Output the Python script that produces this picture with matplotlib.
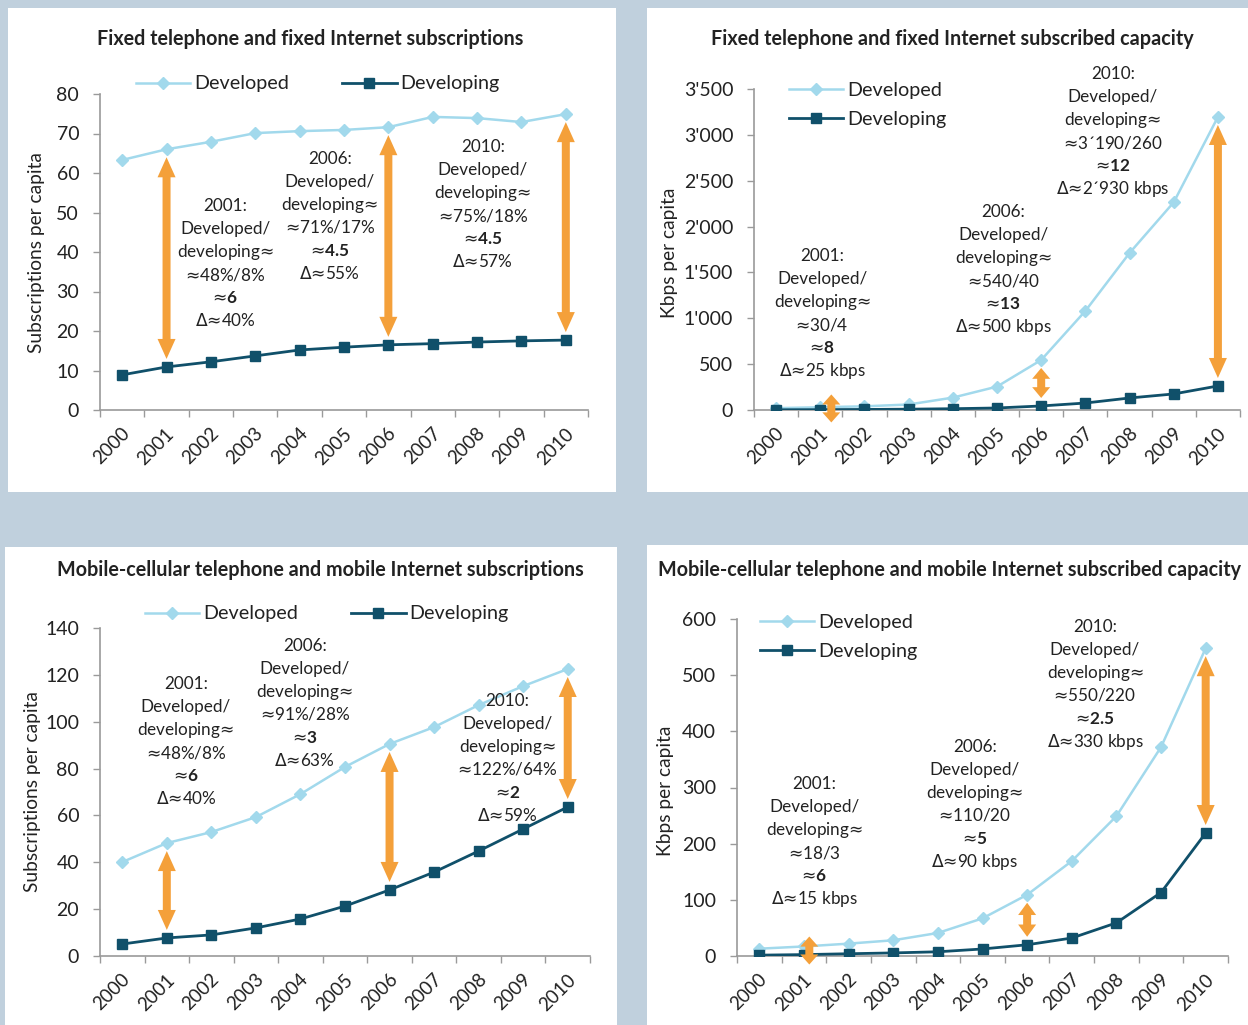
import numpy as np
import matplotlib
matplotlib.use('Agg')
import matplotlib.pyplot as plt
import matplotlib.transforms as mtransforms
from matplotlib.patches import Polygon, Rectangle
from matplotlib.lines import Line2D
from matplotlib.ticker import FuncFormatter, MultipleLocator

plt.rcParams['font.family'] = ['Lato', 'DejaVu Sans']
plt.rcParams['mathtext.fontset'] = 'custom'
plt.rcParams['mathtext.rm'] = 'Lato'
plt.rcParams['mathtext.bf'] = 'Lato:bold'
plt.rcParams['mathtext.sf'] = 'DejaVu Sans'

W, H = 1248, 1025

COR_FUNDO = '#c0d0dd'
COR_DEV = '#a2d9ec'
COR_DEVG = '#10506a'
LARANJA = '#f4a03a'
COR_EIXO = '#9a9a9a'
COR_TEXTO = '#222222'

ANOS = [str(a) for a in range(2000, 2011)]

# Painel 1: assinaturas fixas (por 100 hab.)
fixo_assin_dev = [63.3, 66.0, 67.9, 70.1, 70.6, 70.9, 71.6, 74.2, 73.9, 72.9, 74.9]
fixo_assin_devg = [8.9, 10.9, 12.2, 13.7, 15.2, 15.9, 16.5, 16.8, 17.2, 17.5, 17.7]

# Painel 2: capacidade fixa (kbps per capita)
fixo_cap_dev = [20, 30, 40, 60, 135, 255, 545, 1080, 1712, 2265, 3195]
fixo_cap_devg = [2, 4, 6, 9, 14, 22, 44, 76, 131, 175, 262]

# Painel 3: assinaturas móveis
movel_assin_dev = [40.1, 48.2, 52.9, 59.3, 69.1, 80.7, 90.5, 97.7, 107.1, 115.2, 122.5]
movel_assin_devg = [5.1, 7.7, 9.0, 12.0, 15.8, 21.3, 28.2, 35.8, 44.8, 54.2, 63.6]

# Painel 4: capacidade móvel
movel_cap_dev = [13, 17, 22, 28, 41, 67, 109, 169, 249, 372, 548]
movel_cap_devg = [1.5, 2.5, 4, 5.5, 7.5, 12.5, 20, 32, 59, 113, 219]

TITULOS = [
    'Fixed telephone and fixed Internet subscriptions',
    'Fixed telephone and fixed Internet subscribed capacity',
    'Mobile-cellular telephone and mobile Internet subscriptions',
    'Mobile-cellular telephone and mobile Internet subscribed capacity',
]

NOTAS_FIXO_ASSIN = [
    '2001:\nDeveloped/\ndeveloping≈\n≈48%/8%\n≈$\\mathbf{6}$\nΔ≈40%',
    '2006:\nDeveloped/\ndeveloping≈\n≈71%/17%\n≈$\\mathbf{4.5}$\nΔ≈55%',
    '2010:\nDeveloped/\ndeveloping≈\n≈75%/18%\n≈$\\mathbf{4.5}$\nΔ≈57%',
]
NOTAS_FIXO_CAP = [
    '2001:\nDeveloped/\ndeveloping≈\n≈30/4\n≈$\\mathbf{8}$\nΔ≈25 kbps',
    '2006:\nDeveloped/\ndeveloping≈\n≈540/40\n≈$\\mathbf{13}$\nΔ≈500 kbps',
    '2010:\nDeveloped/\ndeveloping≈\n≈3´190/260\n≈$\\mathbf{12}$\nΔ≈2´930 kbps',
]
NOTAS_MOVEL_ASSIN = [
    '2001:\nDeveloped/\ndeveloping≈\n≈48%/8%\n≈$\\mathbf{6}$\nΔ≈40%',
    '2006:\nDeveloped/\ndeveloping≈\n≈91%/28%\n≈$\\mathbf{3}$\nΔ≈63%',
    '2010:\nDeveloped/\ndeveloping≈\n≈122%/64%\n≈$\\mathbf{2}$\nΔ≈59%',
]
NOTAS_MOVEL_CAP = [
    '2001:\nDeveloped/\ndeveloping≈\n≈18/3\n≈$\\mathbf{6}$\nΔ≈15 kbps',
    '2006:\nDeveloped/\ndeveloping≈\n≈110/20\n≈$\\mathbf{5}$\nΔ≈90 kbps',
    '2010:\nDeveloped/\ndeveloping≈\n≈550/220\n≈$\\mathbf{2.5}$\nΔ≈330 kbps',
]

ANOS_SETA = [1, 6, 10]
PASSO_LINHA = 23  # px entre linhas das notas


def px_ax(x0, y0, x1, y1):
    return [x0 / W, 1 - y1 / H, (x1 - x0) / W, (y1 - y0) / H]


def fmt_milhar(v, pos):
    return f'{int(v):,}'.replace(',', "'")


def simbolos(linha):
    """≈ e Δ em DejaVu Sans (via mathtext sf), como no original."""
    return linha.replace('≈', '$\\mathsf{≈}$').replace('Δ', '$\\mathsf{Δ}$')


def seta(ax, x, y_sup, y_inf, folga=8, comp_min=28):
    """Seta laranja de duas pontas entre as duas séries (em pixels)."""
    cx, ps = ax.transData.transform((x, y_sup))
    _, pi = ax.transData.transform((x, y_inf))
    topo, base = ps - folga, pi + folga
    if topo - base < comp_min:
        meio = (ps + pi) / 2
        topo, base = meio + comp_min / 2, meio - comp_min / 2
    comp = topo - base
    hl = min(20, comp * 0.36)
    hw, sw = 9, 4
    verts = [(cx, topo), (cx + hw, topo - hl), (cx + sw, topo - hl),
             (cx + sw, base + hl), (cx + hw, base + hl), (cx, base),
             (cx - hw, base + hl), (cx - sw, base + hl), (cx - sw, topo - hl),
             (cx - hw, topo - hl)]
    ax.add_patch(Polygon(verts, closed=True, transform=mtransforms.IdentityTransform(),
                         facecolor=LARANJA, edgecolor='none', clip_on=False, zorder=5))


def nota(fig, ax, txt, xt, yt):
    linhas = txt.split('\n')
    n = len(linhas)
    for i, linha in enumerate(linhas):
        dy = ((i - (n - 1) / 2) * PASSO_LINHA + 5) / 100
        tr = ax.transData + mtransforms.ScaledTranslation(0, -dy, fig.dpi_scale_trans)
        ax.text(xt, yt, simbolos(linha), transform=tr, ha='center', va='baseline',
                fontsize=12.3, color=COR_TEXTO, zorder=6)


def painel(fig, pos, dev, devg, ylim, passo, notas, pos_notas, setas_x, fmt=None):
    ax = fig.add_axes(px_ax(*pos))
    ax.set_zorder(2)
    ax.set_facecolor('none')
    x = np.arange(len(ANOS))
    ax.plot(x, dev, color=COR_DEV, lw=1.8, marker='D', ms=6.5, zorder=3,
            label='Developed')
    ax.plot(x, devg, color=COR_DEVG, lw=2.0, marker='s', ms=7, zorder=3,
            label='Developing')
    ax.set_xlim(-0.5, len(ANOS) - 0.5)
    ax.set_ylim(*ylim)
    ax.yaxis.set_major_locator(MultipleLocator(passo))
    if fmt:
        ax.yaxis.set_major_formatter(FuncFormatter(fmt))

    for s in ['top', 'right']:
        ax.spines[s].set_visible(False)
    for s in ['left', 'bottom']:
        ax.spines[s].set_color(COR_EIXO)
        ax.spines[s].set_linewidth(1.2)

    ax.set_xticks(x)
    ax.set_xticklabels(ANOS, rotation=45, ha='right', va='center',
                       rotation_mode='anchor', fontsize=13.5, color=COR_TEXTO)
    ax.set_xticks(np.arange(len(ANOS) + 1) - 0.5, minor=True)
    ax.tick_params(axis='x', which='major', length=0, pad=15)
    ax.tick_params(axis='x', which='minor', length=5, width=1, color=COR_EIXO)
    ax.tick_params(axis='y', length=5, width=1, color=COR_EIXO, labelsize=14,
                   labelcolor=COR_TEXTO, pad=10)
    desloc = mtransforms.ScaledTranslation(5 / 100, 0, fig.dpi_scale_trans)
    for lab in ax.get_xticklabels():
        lab.set_transform(lab.get_transform() + desloc)

    for xa, ya_sup, ya_inf in zip(setas_x, [dev[a] for a in ANOS_SETA],
                                  [devg[a] for a in ANOS_SETA]):
        seta(ax, xa, ya_sup, ya_inf)

    for txt, (xt, yt) in zip(notas, pos_notas):
        nota(fig, ax, txt, xt, yt)
    return ax


def legenda(fig, ax, x, y, ncol):
    handles = [
        Line2D([0], [0], color=COR_DEV, lw=1.8, marker='D', ms=6.5),
        Line2D([0], [0], color=COR_DEVG, lw=2.0, marker='s', ms=7),
    ]
    ax.legend(handles, ['Developed', 'Developing'], ncol=ncol, loc='center left',
              bbox_to_anchor=(x / W, 1 - y / H), bbox_transform=fig.transFigure,
              frameon=False, fontsize=14.2, borderpad=0, borderaxespad=0,
              handlelength=2.75, handletextpad=0.2, columnspacing=2.7,
              labelspacing=0.6, labelcolor=COR_TEXTO)


fig = plt.figure(figsize=(W / 100, H / 100), dpi=100, facecolor=COR_FUNDO)

# fundos brancos dos quatro quadros
for (x0, y0, x1, y1) in [(8, 8, 616, 492), (647, 8, 1248, 492),
                         (5, 547, 617, 1025), (647, 545, 1248, 1025)]:
    fig.patches.append(Rectangle((x0 / W, 1 - y1 / H), (x1 - x0) / W, (y1 - y0) / H,
                                 transform=fig.transFigure, facecolor='white',
                                 edgecolor='none', zorder=-5))

ax1 = painel(fig, (100, 94, 588, 410), fixo_assin_dev, fixo_assin_devg, (0, 80), 10,
             NOTAS_FIXO_ASSIN, [(2.32, 37.0), (4.68, 49.1), (8.13, 52.0)],
             [1.0, 6.0, 10.0])
ax2 = painel(fig, (754, 89, 1240, 410), fixo_cap_dev, fixo_cap_devg, (0, 3500), 500,
             NOTAS_FIXO_CAP, [(1.04, 1047), (5.14, 1527), (7.62, 3032)],
             [1.25, 6.0, 10.0], fmt=fmt_milhar)
ax3 = painel(fig, (100, 628, 590, 956), movel_assin_dev, movel_assin_devg, (0, 140), 20,
             NOTAS_MOVEL_ASSIN, [(1.43, 91.5), (4.10, 107.8), (8.65, 84.5)],
             [1.0, 6.0, 10.0])
ax4 = painel(fig, (737, 619, 1228, 956), movel_cap_dev, movel_cap_devg, (0, 600), 100,
             NOTAS_MOVEL_CAP, [(1.23, 203), (4.83, 270), (7.52, 484)],
             [1.12, 6.0, 10.0])

legenda(fig, ax1, 136, 84, 2)
legenda(fig, ax2, 789, 105, 1)
legenda(fig, ax3, 145, 614, 2)
legenda(fig, ax4, 760, 637, 1)

for titulo, (xt, yt) in zip(TITULOS, [(310, 39), (952, 39), (320, 570), (950, 570)]):
    fig.text(xt / W, 1 - yt / H, titulo, ha='center', va='center', fontsize=14.2,
             fontweight='bold', color=COR_TEXTO)

for rot, (xt, yt) in zip(['Subscriptions per capita', 'Kbps per capita',
                          'Subscriptions per capita', 'Kbps per capita'],
                         [(37, 253), (670, 253), (33, 792), (665, 791)]):
    fig.text(xt / W, 1 - yt / H, rot, rotation=90, ha='center', va='center',
             fontsize=13.8, color=COR_TEXTO)

fig.savefig('out.png', dpi=100, facecolor=COR_FUNDO)
